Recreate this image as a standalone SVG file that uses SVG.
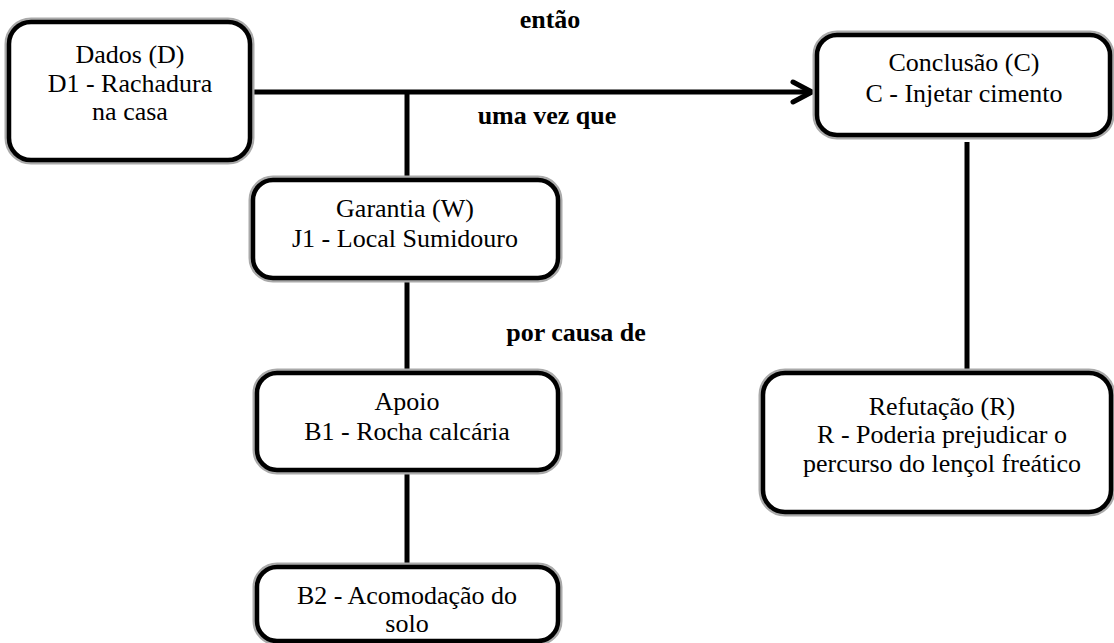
<svg xmlns="http://www.w3.org/2000/svg" width="1114" height="643" viewBox="0 0 1114 643">
<style>
.sh{fill:none;stroke:#aaa;stroke-width:9}
.bx{fill:#fff;stroke:#000;stroke-width:4.5}
.t{font-family:'Liberation Serif','Times New Roman',serif;font-size:26px;fill:#000;text-anchor:middle}
.b{font-family:'Liberation Serif','Times New Roman',serif;font-size:26px;font-weight:bold;fill:#000;text-anchor:middle}
.c{fill:none;stroke:#000;stroke-width:5}
</style>
<rect width="1114" height="643" fill="#fff"/>
<g id="connectors">
<line class="c" x1="250" y1="92" x2="810" y2="92"/>
<polyline class="c" points="793,82 812,92 793,102" stroke-linejoin="miter" stroke-linecap="round" stroke-width="6"/>
<line class="c" x1="407" y1="92" x2="407" y2="182"/>
<line class="c" x1="407" y1="278" x2="407" y2="374"/>
<line class="c" x1="407" y1="470" x2="407" y2="568"/>
<line class="c" x1="967" y1="142" x2="967" y2="374"/>
</g>
<g id="labels">
<text class="b" x="550" y="28">então</text>
<text class="b" x="547" y="124">uma vez que</text>
<text class="b" x="576" y="341">por causa de</text>
</g>
<g id="dados">
<rect class="sh" x="9" y="22" width="241" height="138" rx="22"/>
<rect class="bx" x="9" y="22" width="241" height="138" rx="22"/>
<text class="t" x="130" y="63">Dados (D)</text>
<text class="t" x="130" y="92">D1 -  Rachadura</text>
<text class="t" x="130" y="120">na casa</text>
</g>
<g id="conclusao">
<rect class="sh" x="817" y="35" width="293" height="100" rx="20"/>
<rect class="bx" x="817" y="35" width="293" height="100" rx="20"/>
<text class="t" x="964" y="71">Conclusão (C)</text>
<text class="t" x="964" y="102">C - Injetar cimento</text>
</g>
<g id="garantia">
<rect class="sh" x="253" y="180" width="305" height="98" rx="20"/>
<rect class="bx" x="253" y="180" width="305" height="98" rx="20"/>
<text class="t" x="405" y="217">Garantia (W)</text>
<text class="t" x="405" y="247">J1 - Local Sumidouro</text>
</g>
<g id="apoio">
<rect class="sh" x="257" y="373" width="301" height="97" rx="20"/>
<rect class="bx" x="257" y="373" width="301" height="97" rx="20"/>
<text class="t" x="407" y="410">Apoio</text>
<text class="t" x="407" y="440">B1 - Rocha calcária</text>
</g>
<g id="b2">
<rect class="sh" x="257" y="567" width="301" height="74" rx="20"/>
<rect class="bx" x="257" y="567" width="301" height="74" rx="20"/>
<text class="t" x="407" y="604">B2 - Acomodação do</text>
<text class="t" x="407" y="632">solo</text>
</g>
<g id="refutacao">
<rect class="sh" x="763" y="373" width="348" height="139" rx="22"/>
<rect class="bx" x="763" y="373" width="348" height="139" rx="22"/>
<text class="t" x="942" y="415">Refutação (R)</text>
<text class="t" x="942" y="443">R - Poderia prejudicar o</text>
<text class="t" x="942" y="472">percurso do lençol freático</text>
</g>
</svg>
